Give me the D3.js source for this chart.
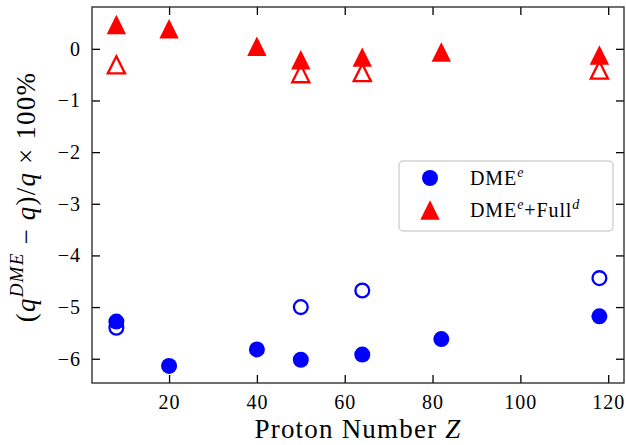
<!DOCTYPE html>
<html>
<head>
<meta charset="utf-8">
<script src="https://cdn.jsdelivr.net/npm/d3@7"></script>
<style>
  html, body { margin: 0; padding: 0; background: #fff; }
  svg { display: block; }
</style>
</head>
<body>
<div id="chart"></div>
<script>
// proton numbers of the nuclei
const Z_ALL  = [8, 20, 40, 50, 64, 82, 118];
const Z_OPEN = [8, 50, 64, 118];

// DME^e, relative deviation in %
const dmeFilled = [-5.28, -6.14, -5.82, -6.02, -5.92, -5.62, -5.18];
const dmeOpen   = [-5.40, -5.00, -4.68, -4.44];

// DME^e + Full^d
const fullFilled = [0.47, 0.39, 0.05, -0.21, -0.16, -0.06, -0.12];
const fullOpen   = [-0.31, -0.48, -0.46, -0.41];

const xTicks = [20, 40, 60, 80, 100, 120];
const yTicks = [0, -1, -2, -3, -4, -5, -6];

const W = 626, H = 445;
const m = { top: 7, right: 2, bottom: 62, left: 92 };
const iw = W - m.left - m.right;
const ih = H - m.top - m.bottom;

const FONT = "'Liberation Serif', 'DejaVu Serif', serif";
const BLUE = "#0000ff", RED = "#ff0000";

const svg = d3.select("#chart").append("svg").attr("width", W).attr("height", H);
const g = svg.append("g").attr("transform", `translate(${m.left},${m.top})`);

const x = d3.scaleLinear().domain([2.45, 123.6]).range([0, iw]);
const y = d3.scaleLinear().domain([-6.47, 0.81]).range([ih, 0]);

// axes, ticks pointing inward on all four sides
function styleAxis(sel) {
    sel.select(".domain").remove();
    sel.selectAll("line").attr("stroke", "#000").attr("stroke-width", 1.3);
    sel.selectAll("text").attr("font-family", FONT).attr("font-size", 20)
        .attr("letter-spacing", 1).attr("fill", "#000");
}
const fmt = d => d < 0 ? "\u2212" + Math.abs(d) : String(d);

g.append("g").attr("transform", `translate(0,${ih})`)
    .call(d3.axisBottom(x).tickValues(xTicks).tickSizeInner(-8).tickSizeOuter(0).tickPadding(12).tickFormat(fmt))
    .call(styleAxis);
g.append("g")
    .call(d3.axisTop(x).tickValues(xTicks).tickSizeInner(-8).tickSizeOuter(0).tickFormat(""))
    .call(styleAxis);
g.append("g")
    .call(d3.axisLeft(y).tickValues(yTicks).tickSizeInner(-8).tickSizeOuter(0).tickPadding(11).tickFormat(fmt))
    .call(styleAxis);
g.append("g").attr("transform", `translate(${iw},0)`)
    .call(d3.axisRight(y).tickValues(yTicks).tickSizeInner(-8).tickSizeOuter(0).tickFormat(""))
    .call(styleAxis);

g.append("rect").attr("width", iw).attr("height", ih)
    .attr("fill", "none").attr("stroke", "#222").attr("stroke-width", 1.3);

// markers
const R = 8, T = 9.7;
const tri = (cx, cy, s) => `M${cx},${cy - s}L${cx + s},${cy + s}L${cx - s},${cy + s}Z`;

g.selectAll(".copen").data(Z_OPEN.map((z, i) => [z, dmeOpen[i]])).enter().append("circle")
    .attr("cx", d => x(d[0])).attr("cy", d => y(d[1])).attr("r", R - 1.1)
    .attr("fill", "none").attr("stroke", BLUE).attr("stroke-width", 2.3);
g.selectAll(".cfill").data(Z_ALL.map((z, i) => [z, dmeFilled[i]])).enter().append("circle")
    .attr("cx", d => x(d[0])).attr("cy", d => y(d[1])).attr("r", R)
    .attr("fill", BLUE);

g.selectAll(".topen").data(Z_OPEN.map((z, i) => [z, fullOpen[i]])).enter().append("path")
    .attr("d", d => tri(x(d[0]), y(d[1]), T - 1.1))
    .attr("fill", "none").attr("stroke", RED).attr("stroke-width", 2.3).attr("stroke-linejoin", "miter");
g.selectAll(".tfill").data(Z_ALL.map((z, i) => [z, fullFilled[i]])).enter().append("path")
    .attr("d", d => tri(x(d[0]), y(d[1]), T))
    .attr("fill", RED);

// legend
const lg = svg.append("g").attr("transform", "translate(399,161)");
lg.append("rect").attr("width", 214).attr("height", 70).attr("rx", 4)
    .attr("fill", "#fff").attr("stroke", "#d3d3d3").attr("stroke-width", 1.5);
lg.append("circle").attr("cx", 31).attr("cy", 17).attr("r", R).attr("fill", BLUE);
lg.append("path").attr("d", tri(31, 49, T)).attr("fill", RED);

function legendLabel(yy, parts) {
    const t = lg.append("text").attr("x", 71).attr("y", yy)
        .attr("font-family", FONT).attr("font-size", 20).attr("letter-spacing", 0.9).attr("fill", "#000");
    parts.forEach(p => {
        const s = t.append("tspan").text(p.t);
        if (p.sup) s.attr("font-size", 14).attr("font-style", "italic").attr("dy", -8);
        if (p.down) s.attr("dy", 8);
    });
}
legendLabel(24, [{ t: "DME" }, { t: "e", sup: true }]);
legendLabel(56, [{ t: "DME" }, { t: "e", sup: true }, { t: "+Full", down: true }, { t: "d", sup: true }]);

// axis labels
svg.append("text").attr("x", m.left + iw / 2).attr("y", 438)
    .attr("text-anchor", "middle").attr("font-family", FONT).attr("font-size", 27)
    .attr("letter-spacing", 1.2)
    .text("Proton Number ")
    .append("tspan").attr("font-style", "italic").text("Z");

const yl = svg.append("text")
    .attr("transform", `translate(35,${m.top + ih / 2 + 2}) rotate(-90)`)
    .attr("text-anchor", "middle").attr("font-family", FONT).attr("font-size", 27)
    .attr("letter-spacing", 1.2);
yl.append("tspan").text("(");
yl.append("tspan").attr("font-style", "italic").text("q");
yl.append("tspan").attr("font-style", "italic").attr("font-size", 19).attr("dy", -12).text("DME");
yl.append("tspan").attr("dy", 12).text(" \u2212 ");
yl.append("tspan").attr("font-style", "italic").text("q");
yl.append("tspan").text(")/");
yl.append("tspan").attr("font-style", "italic").text("q");
yl.append("tspan").text(" \u00d7 100%");
</script>
</body>
</html>
